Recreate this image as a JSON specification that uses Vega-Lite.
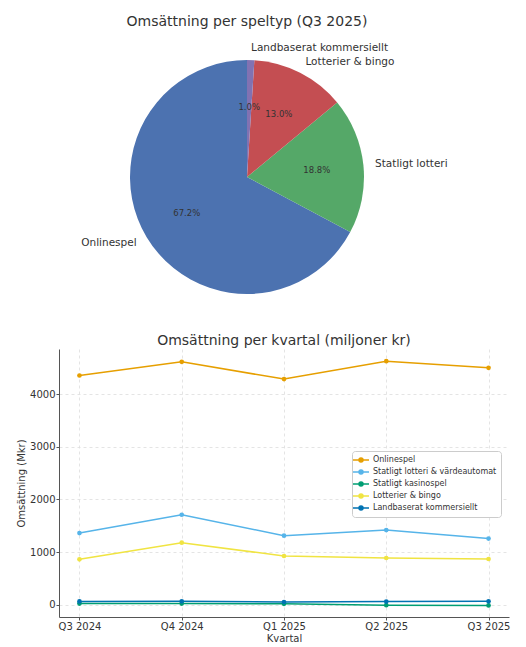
{
  "$schema": "https://vega.github.io/schema/vega-lite/v6.json",
  "background": "white",
  "padding": {"left": 16, "top": 15, "right": 5, "bottom": 0},
  "bounds": "flush",
  "spacing": 35,
  "resolve": {"scale": {"color": "independent"}, "legend": {"color": "independent"}},
  "config": {
    "font": "DejaVu Sans",
    "view": {"stroke": null},
    "title": {"fontSize": 14, "fontWeight": "normal", "color": "#333333"},
    "axis": {
      "labelFontSize": 10,
      "titleFontSize": 10,
      "titleFontWeight": "normal",
      "labelColor": "#333333",
      "titleColor": "#333333",
      "domainColor": "#555555",
      "tickColor": "#555555",
      "tickSize": 3,
      "labelPadding": 1,
      "gridColor": "#dddddd",
      "gridDash": [3, 3],
      "gridWidth": 0.8
    }
  },
  "datasets": {
    "pie": [
      {"kategori": "Onlinespel", "andel": 0.672},
      {"kategori": "Statligt lotteri", "andel": 0.188},
      {"kategori": "Lotterier & bingo", "andel": 0.130},
      {"kategori": "Landbaserat kommersiellt", "andel": 0.010}
    ],
    "kvartal": [
      {"kvartal": "Q3 2024", "speltyp": "Onlinespel", "mkr": 4352},
      {"kvartal": "Q4 2024", "speltyp": "Onlinespel", "mkr": 4611},
      {"kvartal": "Q1 2025", "speltyp": "Onlinespel", "mkr": 4284},
      {"kvartal": "Q2 2025", "speltyp": "Onlinespel", "mkr": 4624},
      {"kvartal": "Q3 2025", "speltyp": "Onlinespel", "mkr": 4497},
      {"kvartal": "Q3 2024", "speltyp": "Statligt lotteri & värdeautomat", "mkr": 1362},
      {"kvartal": "Q4 2024", "speltyp": "Statligt lotteri & värdeautomat", "mkr": 1710},
      {"kvartal": "Q1 2025", "speltyp": "Statligt lotteri & värdeautomat", "mkr": 1313},
      {"kvartal": "Q2 2025", "speltyp": "Statligt lotteri & värdeautomat", "mkr": 1419},
      {"kvartal": "Q3 2025", "speltyp": "Statligt lotteri & värdeautomat", "mkr": 1258},
      {"kvartal": "Q3 2024", "speltyp": "Statligt kasinospel", "mkr": 25},
      {"kvartal": "Q4 2024", "speltyp": "Statligt kasinospel", "mkr": 25},
      {"kvartal": "Q1 2025", "speltyp": "Statligt kasinospel", "mkr": 20},
      {"kvartal": "Q2 2025", "speltyp": "Statligt kasinospel", "mkr": -5},
      {"kvartal": "Q3 2025", "speltyp": "Statligt kasinospel", "mkr": -10},
      {"kvartal": "Q3 2024", "speltyp": "Lotterier & bingo", "mkr": 865},
      {"kvartal": "Q4 2024", "speltyp": "Lotterier & bingo", "mkr": 1180},
      {"kvartal": "Q1 2025", "speltyp": "Lotterier & bingo", "mkr": 927},
      {"kvartal": "Q2 2025", "speltyp": "Lotterier & bingo", "mkr": 889},
      {"kvartal": "Q3 2025", "speltyp": "Lotterier & bingo", "mkr": 870},
      {"kvartal": "Q3 2024", "speltyp": "Landbaserat kommersiellt", "mkr": 65},
      {"kvartal": "Q4 2024", "speltyp": "Landbaserat kommersiellt", "mkr": 68},
      {"kvartal": "Q1 2025", "speltyp": "Landbaserat kommersiellt", "mkr": 55},
      {"kvartal": "Q2 2025", "speltyp": "Landbaserat kommersiellt", "mkr": 62},
      {"kvartal": "Q3 2025", "speltyp": "Landbaserat kommersiellt", "mkr": 67}
    ]
  },
  "vconcat": [
    {
      "width": 376,
      "height": 274,
      "title": {"text": "Omsättning per speltyp (Q3 2025)", "offset": 11},
      "data": {"name": "pie"},
      "encoding": {
        "theta": {"field": "andel", "type": "quantitative", "stack": true},
        "order": {"field": "andel", "sort": "ascending"},
        "color": {
          "field": "kategori",
          "type": "nominal",
          "scale": {
            "domain": ["Onlinespel", "Statligt lotteri", "Lotterier & bingo", "Landbaserat kommersiellt"],
            "range": ["#4C72B0", "#55A868", "#C44E52", "#8172B2"]
          },
          "legend": null
        }
      },
      "layer": [
        {"mark": {"type": "arc", "outerRadius": 117}},
        {
          "mark": {"type": "text", "radius": 128.7, "align": "left", "baseline": "middle", "fontSize": 10.5},
          "encoding": {
            "text": {"field": "kategori"},
            "color": {"value": "#333333"},
            "opacity": {"condition": {"test": "datum.kategori === 'Onlinespel'", "value": 0}, "value": 1}
          }
        },
        {
          "mark": {"type": "text", "radius": 128.7, "align": "right", "baseline": "middle", "fontSize": 10.5},
          "encoding": {
            "text": {"field": "kategori"},
            "color": {"value": "#333333"},
            "opacity": {"condition": {"test": "datum.kategori === 'Onlinespel'", "value": 1}, "value": 0}
          }
        },
        {
          "mark": {"type": "text", "radius": 70.2, "align": "center", "baseline": "middle", "fontSize": 8.5},
          "encoding": {
            "text": {"field": "andel", "type": "quantitative", "format": ".1%"},
            "color": {"value": "#333333"}
          }
        }
      ]
    },
    {
      "width": 450,
      "height": 268,
      "title": {"text": "Omsättning per kvartal (miljoner kr)", "offset": 1},
      "data": {"name": "kvartal"},
      "mark": {"type": "line", "strokeWidth": 1.5, "point": {"size": 22, "filled": true}},
      "encoding": {
        "x": {
          "field": "kvartal",
          "type": "ordinal",
          "sort": null,
          "scale": {"type": "point", "padding": 0.2},
          "axis": {"labelAngle": 0, "title": "Kvartal", "titlePadding": 2, "grid": true}
        },
        "y": {
          "field": "mkr",
          "type": "quantitative",
          "scale": {"domain": [-230, 4855], "nice": false, "zero": false},
          "axis": {"values": [0, 1000, 2000, 3000, 4000], "format": "d", "title": "Omsättning (Mkr)", "titlePadding": 3, "grid": true}
        },
        "color": {
          "field": "speltyp",
          "type": "nominal",
          "sort": null,
          "scale": {
            "domain": ["Onlinespel", "Statligt lotteri & värdeautomat", "Statligt kasinospel", "Lotterier & bingo", "Landbaserat kommersiellt"],
            "range": ["#E69F00", "#56B4E9", "#009E73", "#F0E442", "#0072B2"]
          },
          "legend": {
            "title": null,
            "orient": "none",
            "legendX": 293,
            "legendY": 102,
            "fillColor": "white",
            "strokeColor": "#cccccc",
            "cornerRadius": 3,
            "padding": 4,
            "labelFontSize": 8,
            "labelColor": "#333333",
            "labelOffset": 7,
            "rowPadding": 2,
            "symbolType": "M-2,0H2M-0.5,0A0.5,0.5,0,1,1,0.5,0A0.5,0.5,0,1,1,-0.5,0Z",
            "symbolSize": 64,
            "symbolStrokeWidth": 1.5
          }
        }
      }
    }
  ]
}
